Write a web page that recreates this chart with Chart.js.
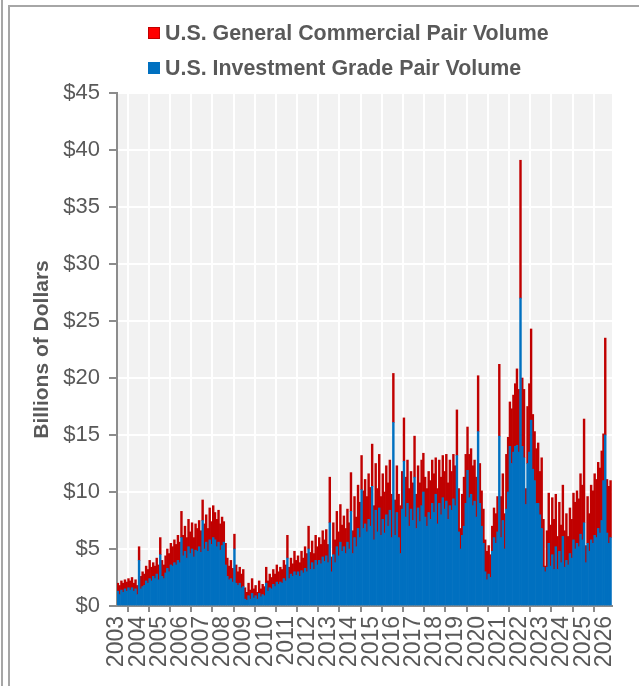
<!DOCTYPE html>
<html>
<head>
<meta charset="utf-8">
<script src="https://cdn.jsdelivr.net/npm/chart.js@4.4.1/dist/chart.umd.min.js"></script>
<style>
  html, body { margin: 0; padding: 0; background: #fff; }
  #wrap { position: relative; width: 639px; height: 686px; overflow: hidden; font-family: "Liberation Sans", Arial, sans-serif; }
  #edge { position: absolute; left: 1px; top: 0; bottom: 0; border-left: 2px solid #a6a6a6; }
  #frame { position: absolute; left: 8px; top: 5px; right: -10px; bottom: -10px; border-left: 2px solid #a6a6a6; border-top: 2px solid #a6a6a6; }
  canvas { position: absolute; left: 0; top: 0; }
  .lg-box { position: absolute; left: 148px; width: 10px; height: 10px; }
  .lg-text { position: absolute; left: 165px; font-size: 21.4px; font-weight: bold; color: #595959; line-height: 25px; white-space: nowrap; }
</style>
</head>
<body>
<div id="wrap">
  <div id="edge"></div>
  <div id="frame"></div>
  <canvas id="chart" width="639" height="686"></canvas>
  <div class="lg-box" style="top:27px;background:#ff0000;border:1px solid #c00000;"></div>
  <div class="lg-text" style="top:21px;">U.S. General Commercial Pair Volume</div>
  <div class="lg-box" style="top:62px;background:#0070c0;border:1px solid #0070c0;"></div>
  <div class="lg-text" style="top:56px;">U.S. Investment Grade Pair Volume</div>
</div>
<script>
// Dati mensili (miliardi di dollari), da gen 2003 ad apr 2026
const startYear = 2003;
const yearTicks = [2003, 2004, 2005, 2006, 2007, 2008, 2009, 2010, 2011, 2012, 2013, 2014,
  2015, 2016, 2017, 2018, 2019, 2020, 2021, 2022, 2023, 2024, 2025, 2026];

// Investment Grade (blu, in basso)
const igVolume = [
  1.3,1.0,1.4,1.2,1.5,1.3,1.6,1.4,1.6,1.3,1.5,1.0,   // 2003
  4.0,1.5,1.7,1.8,2.2,2.0,2.4,2.2,2.6,2.4,2.8,2.3,   // 2004
  4.5,2.6,2.4,2.9,3.3,3.0,3.6,3.5,3.8,3.6,4.0,3.8,   // 2005
  6.0,4.4,4.8,4.2,5.2,4.6,5.0,4.3,4.9,4.8,5.2,4.7,   // 2006
  7.5,5.0,5.6,4.8,5.8,5.4,6.0,5.8,5.2,5.6,4.9,5.3,   // 2007
  5.6,3.6,2.6,2.3,2.4,2.1,5.0,2.0,1.8,2.0,1.6,1.7,   // 2008
  0.6,0.5,0.9,0.6,1.1,0.7,0.9,0.6,1.1,0.8,1.0,0.9,   // 2009
  2.0,1.3,1.6,1.5,1.9,1.7,2.1,1.9,2.1,2.0,2.4,2.2,   // 2010
  4.2,2.4,2.8,2.6,3.0,2.7,3.0,2.6,3.1,2.9,3.3,3.0,   // 2011
  5.0,3.2,3.8,3.2,4.0,3.6,4.0,3.7,4.3,3.9,4.4,3.8,   // 2012
  7.3,3.0,4.5,3.8,5.2,4.4,5.6,4.8,5.2,4.6,5.6,5.0,   // 2013
  8.3,4.6,6.0,5.2,6.8,6.0,10.2,6.8,7.2,6.5,7.6,7.0,  // 2014
  10.5,5.8,8.4,6.5,8.6,6.2,7.6,6.4,8.0,7.0,8.4,6.0,  // 2015
  16.1,6.2,8.2,6.0,4.6,8.5,12.7,7.8,9.0,7.0,8.5,7.5, // 2016
  11.3,6.8,8.6,7.4,8.8,10.0,7.8,7.0,8.2,7.6,9.0,8.2, // 2017
  9.8,7.2,9.0,8.0,9.5,8.5,9.2,7.6,8.8,8.4,9.4,8.8,   // 2018
  13.2,6.5,5.0,6.2,7.0,9.0,11.9,9.5,9.8,8.8,9.2,7.8, // 2019
  15.3,9.0,7.0,5.5,3.0,2.3,2.8,2.5,4.8,6.0,5.5,6.5,  // 2020
  14.9,6.0,7.5,5.0,8.5,10.0,14.0,12.5,13.5,14.0,14.1,13.5, // 2021
  27.0,14.0,13.0,8.9,12.5,13.5,16.3,12.0,11.0,9.0,9.0,8.0, // 2022
  6.8,3.4,3.0,3.4,5.5,3.5,4.5,3.2,5.2,3.2,4.8,3.8,   // 2023
  6.1,3.4,4.0,3.6,4.6,4.2,5.8,5.0,5.5,5.2,6.3,5.8,   // 2024
  7.3,3.8,5.5,4.8,5.8,5.5,6.2,6.0,6.8,6.4,7.5,11.0,  // 2025
  15.0,6.4,5.5,6.0                                   // 2026
];

// General Commercial (rosso, sopra)
const gcVolume = [
  0.7,0.8,0.8,0.8,0.8,0.8,0.8,0.8,0.9,0.7,0.8,0.8,   // 2003
  1.2,1.1,1.3,1.0,1.3,1.2,1.6,1.2,1.2,1.1,1.4,1.3,   // 2004
  1.5,1.4,1.2,1.5,1.7,1.6,1.9,1.7,2.0,1.8,2.2,1.8,   // 2005
  2.3,1.8,2.2,1.8,2.4,1.9,2.3,1.7,2.3,2.0,2.3,1.9,   // 2006
  1.8,2.2,2.4,2.0,2.8,2.0,2.8,2.4,2.4,2.8,2.3,2.5,   // 2007
  1.8,1.9,1.6,1.2,1.6,1.2,1.3,1.6,1.2,1.4,1.2,1.5,   // 2008
  1.0,0.7,1.1,0.8,1.3,0.8,0.9,0.6,1.1,0.7,0.9,0.8,   // 2009
  1.4,0.9,1.2,1.0,1.3,1.1,1.5,1.1,1.3,1.2,1.6,1.4,   // 2010
  2.0,1.0,1.4,1.1,1.8,1.3,1.4,1.2,1.7,1.3,1.9,1.6,   // 2011
  2.0,1.5,1.9,1.4,2.2,1.6,2.0,1.7,2.3,1.9,2.3,1.6,   // 2012
  4.0,1.3,2.8,2.0,3.1,2.1,3.3,2.3,2.7,2.2,2.9,2.3,   // 2013
  3.4,2.0,3.6,2.6,3.8,3.1,3.0,3.3,3.9,3.1,4.0,3.4,   // 2014
  3.7,3.0,4.1,3.8,4.7,3.4,4.0,3.6,4.3,3.8,4.4,3.8,   // 2015
  4.3,3.1,4.1,3.8,4.2,3.3,3.8,3.5,3.8,3.3,3.3,3.3,   // 2016
  3.6,3.0,3.7,3.4,4.0,3.4,3.5,3.3,3.6,3.4,3.8,3.4,   // 2017
  3.2,3.1,3.8,3.3,3.7,3.3,4.1,3.2,4.0,3.4,3.9,3.5,   // 2018
  4.0,3.8,1.8,3.6,4.3,4.3,3.8,3.8,4.0,3.5,3.6,3.5,   // 2019
  4.9,3.5,3.1,3.0,2.8,2.5,2.5,2.0,2.2,2.6,2.6,3.1,   // 2020
  6.3,3.6,4.1,3.1,4.8,4.8,3.9,4.8,5.0,5.5,6.7,5.5,   // 2021
  12.1,6.0,6.0,1.4,5.0,6.0,8.0,4.8,4.3,4.8,5.3,3.8,  // 2022
  6.2,4.2,0.5,3.2,4.4,3.6,5.0,4.4,4.6,2.9,4.3,3.3,   // 2023
  4.5,3.2,4.1,2.5,4.0,3.4,4.1,4.1,4.6,4.2,5.3,4.8,   // 2024
  9.1,1.5,4.1,3.3,4.8,4.6,5.4,5.1,5.8,5.7,6.1,4.1,   // 2025
  8.5,4.7,5.0,5.0                                    // 2026
];

const yTicks = [0, 5, 10, 15, 20, 25, 30, 35, 40, 45];

const fontFamily = '"Liberation Sans", Arial, sans-serif';
const textGray = '#595959';
const axisGray = '#8c8c8c';

// Punto al centro di ogni mese
const toPoints = values => values.map((v, i) => ({ x: startYear + (i + 0.5) / 12, y: v }));

// Sfondo grigio dell'area del grafico
const plotBackground = {
  id: 'plotBackground',
  beforeDraw(chart) {
    const { ctx, chartArea: a } = chart;
    ctx.save();
    ctx.fillStyle = '#f2f2f2';
    ctx.fillRect(a.left, a.top, a.right - a.left, a.bottom - a.top);
    ctx.restore();
  }
};

new Chart(document.getElementById('chart'), {
  type: 'bar',
  data: {
    datasets: [
      {
        label: 'U.S. Investment Grade Pair Volume',
        data: toPoints(igVolume),
        backgroundColor: '#0070c0',
        borderWidth: 0,
        barPercentage: 1,
        categoryPercentage: 1
      },
      {
        label: 'U.S. General Commercial Pair Volume',
        data: toPoints(gcVolume),
        backgroundColor: '#c00000',
        borderWidth: 0,
        barPercentage: 1,
        categoryPercentage: 1
      }
    ]
  },
  options: {
    responsive: false,
    animation: false,
    devicePixelRatio: 1,
    layout: { padding: { top: 93, right: 27, left: 0, bottom: 0 } },
    scales: {
      x: {
        type: 'linear',
        stacked: true,
        offset: false,
        min: yearTicks[0],
        max: 2026.36,
        afterBuildTicks: scale => { scale.ticks = yearTicks.map(v => ({ value: v })); },
        afterFit: scale => { scale.height = 80; },
        grid: { color: '#ffffff', lineWidth: 2, tickColor: axisGray, tickLength: 6, tickWidth: 2 },
        border: { color: axisGray, width: 2 },
        ticks: {
          autoSkip: false,
          maxRotation: 90,
          minRotation: 90,
          padding: 4,
          color: textGray,
          font: { family: fontFamily, size: 23 },
          callback: value => String(value)
        }
      },
      y: {
        stacked: true,
        min: 0,
        max: 45,
        afterBuildTicks: scale => { scale.ticks = yTicks.map(v => ({ value: v })); },
        afterFit: scale => { scale.width = 117; },
        grid: { color: '#ffffff', lineWidth: 2, tickColor: axisGray, tickLength: 8, tickWidth: 2 },
        border: { color: axisGray, width: 2 },
        ticks: {
          padding: 9,
          color: textGray,
          font: { family: fontFamily, size: 22 },
          callback: value => '$' + value
        },
        title: {
          display: true,
          text: 'Billions of Dollars',
          color: textGray,
          font: { family: fontFamily, size: 21, weight: 'bold' },
          padding: { top: 30, bottom: 0 }
        }
      }
    },
    plugins: {
      legend: { display: false },
      tooltip: { enabled: true }
    }
  },
  plugins: [plotBackground]
});
</script>
</body>
</html>
